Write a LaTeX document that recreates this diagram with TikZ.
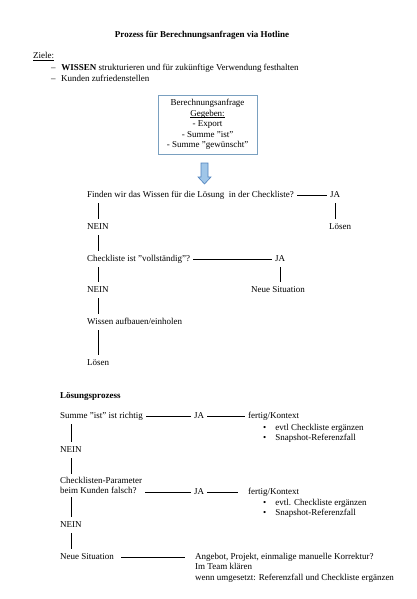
\documentclass[tikz,border=0pt]{standalone}
\usepackage{fontspec}
\setmainfont{Liberation Serif}
\usetikzlibrary{positioning}
\definecolor{boxblue}{RGB}{122,160,192}
\definecolor{pfeilrand}{RGB}{79,129,189}
\definecolor{pfeilfill}{RGB}{160,198,232}
\newcommand{\unterstr}[1]{\underline{\raisebox{0pt}[\height][0pt]{#1}}}
\tikzset{txt/.style={anchor=west,inner xsep=3pt,inner ysep=4pt,text height=6pt,text depth=2pt},
         block/.style={anchor=north west,align=left,inner xsep=3pt,inner ysep=3pt},
         verb/.style={draw,line width=0.6pt}}

\begin{document}
\begin{tikzpicture}[x=1pt,y=-1pt,font=\fontsize{9}{10.6}\selectfont]
           \useasboundingbox (0,0) rectangle (416,599);
           \node[font=\fontsize{9}{10.6}\selectfont\bfseries] (titel) at (202,35) {Prozess für Berechnungsanfragen via Hotline};
           \node[txt] (ziele) at (30,57) {\unterstr{Ziele:}};
           \node[txt] (ziel1) at (48,69) {–\hspace{5.5pt}\textbf{WISSEN} strukturieren und für zukünftige Verwendung festhalten};
           \node[txt] (ziel2) at (48,80) {–\hspace{5.5pt}Kunden zufriedenstellen};
           \node[draw=boxblue,line width=0.8pt,align=center,minimum width=99pt,minimum height=59pt,inner sep=0pt] (anfrage) at (207.5,124.5)
                {Berechnungsanfrage\\\unterstr{Gegeben:}\\- Export\\- Summe "ist"\\- Summe "gewünscht"};
           \draw[draw=pfeilrand,fill=pfeilfill,line width=0.6pt] (201,163) -- (208,163) -- (208,177) -- (211,177) -- (204.5,184) -- (198,177) -- (201,177) -- cycle;
           \node[txt] (finden)  at (84,195)  {Finden wir das Wissen für die Lösung~ in der Checkliste?};
           \node[txt] (ja1)     at (327,195) {JA};
           \node[txt] (loesen1) at (326,227) {Lösen};
           \node[txt] (nein1)   at (84,227)  {NEIN};
           \node[txt] (check)   at (84,259)  {Checkliste ist "vollständig"?};
           \node[txt] (ja2)     at (272,259) {JA};
           \node[txt] (neu1)    at (248,290) {Neue Situation};
           \node[txt] (nein2)   at (84,290)  {NEIN};
           \node[txt] (wissen)  at (84,322)  {Wissen aufbauen/einholen};
           \node[txt] (loesen2) at (84,363)  {Lösen};
           \node[txt,font=\fontsize{9}{10.6}\selectfont\bfseries] (lsg) at (57,396) {Lösungsprozess};
           \node[txt] (summe)   at (57,416)  {Summe "ist" ist richtig};
           \node[txt] (ja3)     at (191,416) {JA};
           \node[txt] (fertig1) at (245,416) {fertig/Kontext};
           \node[block] (punkte1) at (260,420.8) {\textbullet\hspace{9pt}evtl Checkliste ergänzen\\\textbullet\hspace{9pt}Snapshot-Referenzfall};
           \node[txt] (nein3)   at (57,450)  {NEIN};
           \node[block] (param) at (57,473.8) {Checklisten-Parameter\\beim Kunden falsch?};
           \node[txt] (ja4)     at (191,492) {JA};
           \node[txt] (fertig2) at (245,492) {fertig/Kontext};
           \node[block] (punkte2) at (260,495.8) {\textbullet\hspace{9pt}evtl. Checkliste ergänzen\\\textbullet\hspace{9pt}Snapshot-Referenzfall};
           \node[txt] (nein4)   at (57,525)  {NEIN};
           \node[txt] (neu2)    at (57,557)  {Neue Situation};
           \node[block] (angebot) at (192,549.8) {Angebot, Projekt, einmalige manuelle Korrektur?\\Im Team klären\\wenn umgesetzt: Referenzfall und Checkliste ergänzen};
            \path[verb]
            (finden.east) -- (ja1.west)
            (ja1.south) -- (ja1 |- loesen1.north)
            (nein1.north) -- (nein1 |- finden.south)
            (nein1.south) -- (nein1 |- check.north)
            (check.east) -- (ja2.west)
            (ja2.south) -- (ja2 |- neu1.north)
            (nein2.north) -- (nein2 |- check.south)
            (nein2.south) -- (nein2 |- wissen.north)
            (wissen.south -| nein2) -- (nein2 |- loesen2.north)
            (summe.east) -- (ja3.west)
            (nein3.north) -- (nein3 |- summe.south)
            (nein3.south) -- (nein3 |- param.north)
            (param.east |- ja4) -- (ja4.west)
            (nein4.north) -- (nein4 |- param.south)
            (nein4.south) -- (nein4 |- neu2.north);
            \path[verb,shorten >=7pt] (ja3.east) -- (fertig1.west)
            (ja4.east) -- (fertig2.west);
            \path[verb,shorten <=4pt,shorten >=7pt] (neu2.east) -- (neu2.east -| angebot.west);
        \end{tikzpicture}
\end{document}
